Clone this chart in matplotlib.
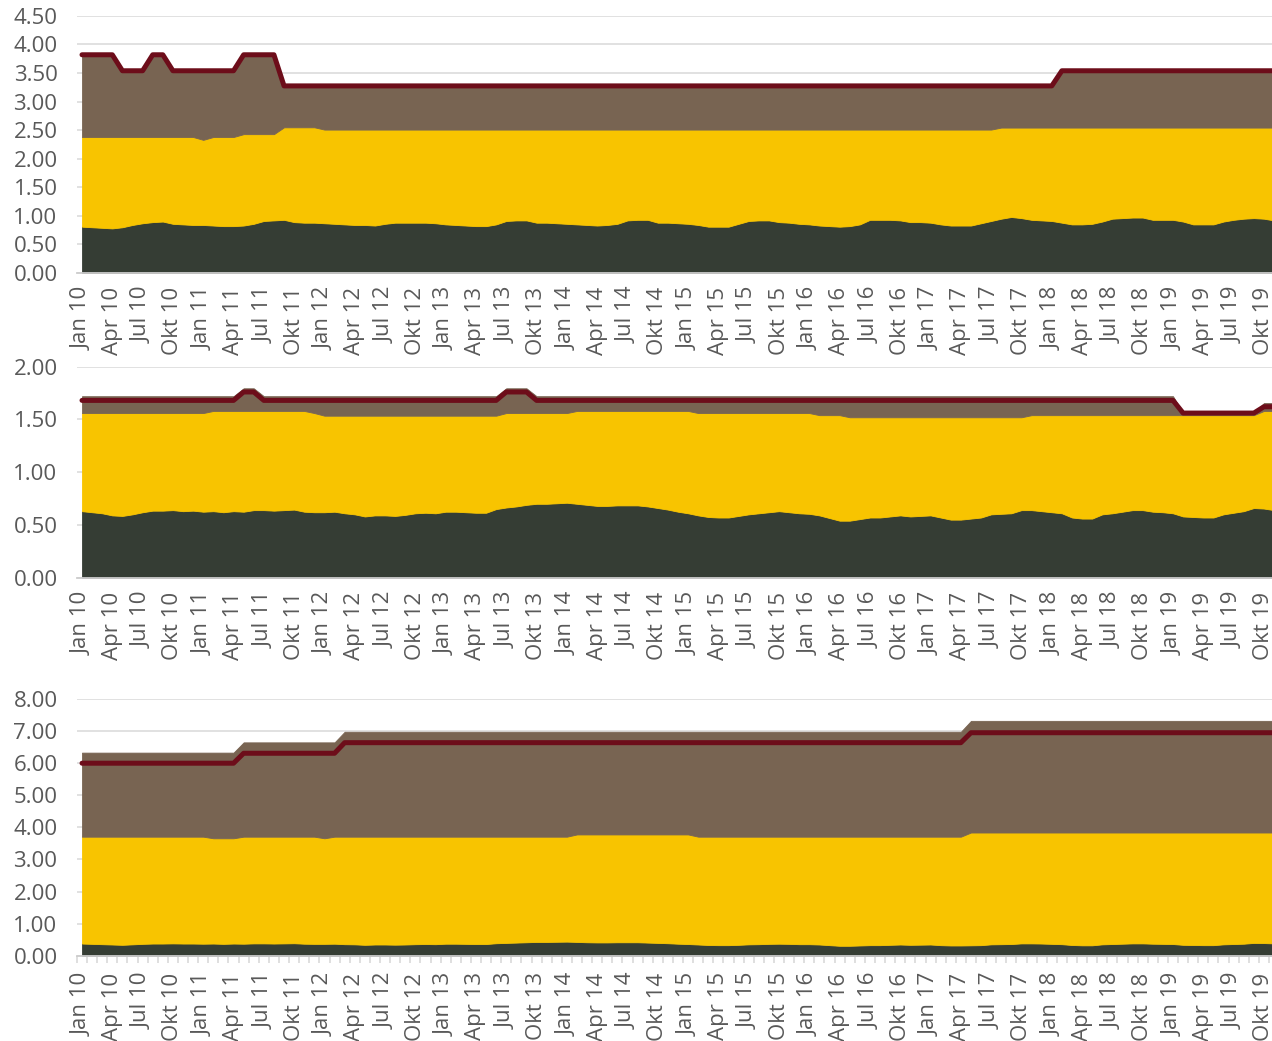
import matplotlib
matplotlib.use("Agg")
import matplotlib.pyplot as plt
import numpy as np

plt.rcParams['font.family'] = ['Open Sans', 'DejaVu Sans']

# months Jan 10 .. Dez 19
month_names = ['Jan', 'Apr', 'Jul', 'Okt']
years = list(range(10, 20))
tick_labels = [m + ' ' + str(y) for y in years for m in month_names]

# ---------- panel 1 ----------
p1_dark = [
    0.81, 0.80, 0.79, 0.78, 0.80, 0.84, 0.87, 0.89, 0.90, 0.86, 0.85, 0.84,
    0.84, 0.83, 0.82, 0.82, 0.83, 0.86, 0.91, 0.92, 0.93, 0.89, 0.88, 0.88,
    0.87, 0.86, 0.85, 0.84, 0.84, 0.83, 0.86, 0.88, 0.88, 0.88, 0.88, 0.87,
    0.85, 0.84, 0.83, 0.82, 0.82, 0.85, 0.91, 0.92, 0.92, 0.88, 0.88, 0.87,
    0.86, 0.85, 0.84, 0.83, 0.84, 0.86, 0.92, 0.93, 0.93, 0.88, 0.88, 0.87,
    0.86, 0.84, 0.81, 0.81, 0.81, 0.86, 0.91, 0.92, 0.92, 0.89, 0.88, 0.86,
    0.85, 0.83, 0.82, 0.81, 0.82, 0.85, 0.93, 0.93, 0.93, 0.92, 0.89, 0.89,
    0.88, 0.85, 0.83, 0.83, 0.83, 0.87, 0.91, 0.95, 0.98, 0.96, 0.93, 0.92,
    0.91, 0.88, 0.85, 0.85, 0.86, 0.90, 0.95, 0.96, 0.97, 0.97, 0.93, 0.93,
    0.93, 0.90, 0.85, 0.85, 0.85, 0.90, 0.93, 0.95, 0.96, 0.95, 0.92, 0.90,
]
p1_mid = [
    2.38, 2.38, 2.38, 2.38, 2.38, 2.38, 2.38, 2.38, 2.38, 2.38, 2.38, 2.38,
    2.33, 2.38, 2.38, 2.38, 2.43, 2.43, 2.43, 2.43, 2.55, 2.55, 2.55, 2.55,
    2.51, 2.51, 2.51, 2.51, 2.51, 2.51, 2.51, 2.51, 2.51, 2.51, 2.51, 2.51,
    2.51, 2.51, 2.51, 2.51, 2.51, 2.51, 2.51, 2.51, 2.51, 2.51, 2.51, 2.51,
    2.51, 2.51, 2.51, 2.51, 2.51, 2.51, 2.51, 2.51, 2.51, 2.51, 2.51, 2.51,
    2.51, 2.51, 2.51, 2.51, 2.51, 2.51, 2.51, 2.51, 2.51, 2.51, 2.51, 2.51,
    2.51, 2.51, 2.51, 2.51, 2.51, 2.51, 2.51, 2.51, 2.51, 2.51, 2.51, 2.51,
    2.51, 2.51, 2.51, 2.51, 2.51, 2.51, 2.51, 2.545, 2.545, 2.545, 2.545, 2.545,
    2.545, 2.545, 2.545, 2.545, 2.545, 2.545, 2.545, 2.545, 2.545, 2.545, 2.545, 2.545,
    2.545, 2.545, 2.545, 2.545, 2.545, 2.545, 2.545, 2.545, 2.545, 2.545, 2.545, 2.545,
]
p1_total = [
    3.82, 3.82, 3.82, 3.82, 3.54, 3.54, 3.54, 3.82, 3.82, 3.54, 3.54, 3.54,
    3.54, 3.54, 3.54, 3.54, 3.82, 3.82, 3.82, 3.82, 3.275, 3.275, 3.275, 3.275,
    3.275, 3.275, 3.275, 3.275, 3.275, 3.275, 3.275, 3.275, 3.275, 3.275, 3.275, 3.275,
    3.275, 3.275, 3.275, 3.275, 3.275, 3.275, 3.275, 3.275, 3.275, 3.275, 3.275, 3.275,
    3.275, 3.275, 3.275, 3.275, 3.275, 3.275, 3.275, 3.275, 3.275, 3.275, 3.275, 3.275,
    3.275, 3.275, 3.275, 3.275, 3.275, 3.275, 3.275, 3.275, 3.275, 3.275, 3.275, 3.275,
    3.275, 3.275, 3.275, 3.275, 3.275, 3.275, 3.275, 3.275, 3.275, 3.275, 3.275, 3.275,
    3.275, 3.275, 3.275, 3.275, 3.275, 3.275, 3.275, 3.275, 3.275, 3.275, 3.275, 3.275,
    3.275, 3.54, 3.54, 3.54, 3.54, 3.54, 3.54, 3.54, 3.54, 3.54, 3.54, 3.54,
    3.54, 3.54, 3.54, 3.54, 3.54, 3.54, 3.54, 3.54, 3.54, 3.54, 3.54, 3.54,
]
p1_top = p1_total  # brown layer ends at the total

# ---------- panel 2 ----------
p2_dark = [
    0.63, 0.62, 0.61, 0.59, 0.585, 0.60, 0.62, 0.635, 0.635, 0.64, 0.63, 0.635,
    0.625, 0.63, 0.62, 0.63, 0.625, 0.64, 0.64, 0.635, 0.64, 0.645, 0.625, 0.62,
    0.62, 0.625, 0.61, 0.60, 0.58, 0.59, 0.59, 0.585, 0.595, 0.61, 0.615, 0.61,
    0.625, 0.625, 0.62, 0.615, 0.615, 0.65, 0.665, 0.675, 0.69, 0.70, 0.70, 0.705,
    0.71, 0.70, 0.69, 0.68, 0.68, 0.685, 0.685, 0.685, 0.675, 0.66, 0.645, 0.625,
    0.61, 0.59, 0.575, 0.57, 0.57, 0.585, 0.60, 0.61, 0.62, 0.63, 0.62, 0.61,
    0.605, 0.59, 0.565, 0.54, 0.54, 0.555, 0.57, 0.57, 0.58, 0.59, 0.58, 0.585,
    0.59, 0.57, 0.55, 0.55, 0.56, 0.57, 0.60, 0.605, 0.61, 0.64, 0.64, 0.63,
    0.62, 0.61, 0.57, 0.56, 0.56, 0.60, 0.61, 0.625, 0.64, 0.64, 0.625, 0.62,
    0.61, 0.58, 0.575, 0.57, 0.57, 0.60, 0.615, 0.63, 0.66, 0.655, 0.64, 0.63,
]
p2_mid = [
    1.56, 1.56, 1.56, 1.56, 1.56, 1.56, 1.56, 1.56, 1.56, 1.56, 1.56, 1.56,
    1.56, 1.58, 1.58, 1.58, 1.58, 1.58, 1.58, 1.58, 1.58, 1.58, 1.58, 1.56,
    1.535, 1.535, 1.535, 1.535, 1.535, 1.535, 1.535, 1.535, 1.535, 1.535, 1.535, 1.535,
    1.535, 1.535, 1.535, 1.535, 1.535, 1.535, 1.56, 1.56, 1.56, 1.56, 1.56, 1.56,
    1.56, 1.58, 1.58, 1.58, 1.58, 1.58, 1.58, 1.58, 1.58, 1.58, 1.58, 1.58,
    1.58, 1.56, 1.56, 1.56, 1.56, 1.56, 1.56, 1.56, 1.56, 1.56, 1.56, 1.56,
    1.56, 1.54, 1.54, 1.54, 1.52, 1.52, 1.52, 1.52, 1.52, 1.52, 1.52, 1.52,
    1.52, 1.52, 1.52, 1.52, 1.52, 1.52, 1.52, 1.52, 1.52, 1.52, 1.54, 1.54,
    1.54, 1.54, 1.54, 1.54, 1.54, 1.54, 1.54, 1.54, 1.54, 1.54, 1.54, 1.54,
    1.54, 1.54, 1.54, 1.54, 1.54, 1.54, 1.54, 1.54, 1.54, 1.58, 1.58, 1.58,
]
p2_top = [
    1.72, 1.72, 1.72, 1.72, 1.72, 1.72, 1.72, 1.72, 1.72, 1.72, 1.72, 1.72,
    1.72, 1.72, 1.72, 1.72, 1.795, 1.795, 1.72, 1.72, 1.72, 1.72, 1.72, 1.72,
    1.72, 1.72, 1.72, 1.72, 1.72, 1.72, 1.72, 1.72, 1.72, 1.72, 1.72, 1.72,
    1.72, 1.72, 1.72, 1.72, 1.72, 1.72, 1.795, 1.795, 1.795, 1.72, 1.72, 1.72,
    1.72, 1.72, 1.72, 1.72, 1.72, 1.72, 1.72, 1.72, 1.72, 1.72, 1.72, 1.72,
    1.72, 1.72, 1.72, 1.72, 1.72, 1.72, 1.72, 1.72, 1.72, 1.72, 1.72, 1.72,
    1.72, 1.72, 1.72, 1.72, 1.72, 1.72, 1.72, 1.72, 1.72, 1.72, 1.72, 1.72,
    1.72, 1.72, 1.72, 1.72, 1.72, 1.72, 1.72, 1.72, 1.72, 1.72, 1.72, 1.72,
    1.72, 1.72, 1.72, 1.72, 1.72, 1.72, 1.72, 1.72, 1.72, 1.72, 1.72, 1.72,
    1.72, 1.56, 1.56, 1.56, 1.56, 1.56, 1.56, 1.56, 1.56, 1.655, 1.655, 1.655,
]
p2_total = [
    1.68, 1.68, 1.68, 1.68, 1.68, 1.68, 1.68, 1.68, 1.68, 1.68, 1.68, 1.68,
    1.68, 1.68, 1.68, 1.68, 1.76, 1.76, 1.68, 1.68, 1.68, 1.68, 1.68, 1.68,
    1.68, 1.68, 1.68, 1.68, 1.68, 1.68, 1.68, 1.68, 1.68, 1.68, 1.68, 1.68,
    1.68, 1.68, 1.68, 1.68, 1.68, 1.68, 1.76, 1.76, 1.76, 1.68, 1.68, 1.68,
    1.68, 1.68, 1.68, 1.68, 1.68, 1.68, 1.68, 1.68, 1.68, 1.68, 1.68, 1.68,
    1.68, 1.68, 1.68, 1.68, 1.68, 1.68, 1.68, 1.68, 1.68, 1.68, 1.68, 1.68,
    1.68, 1.68, 1.68, 1.68, 1.68, 1.68, 1.68, 1.68, 1.68, 1.68, 1.68, 1.68,
    1.68, 1.68, 1.68, 1.68, 1.68, 1.68, 1.68, 1.68, 1.68, 1.68, 1.68, 1.68,
    1.68, 1.68, 1.68, 1.68, 1.68, 1.68, 1.68, 1.68, 1.68, 1.68, 1.68, 1.68,
    1.68, 1.56, 1.56, 1.56, 1.56, 1.56, 1.56, 1.56, 1.56, 1.62, 1.62, 1.62,
]

# ---------- panel 3 ----------
p3_dark = [
    0.38, 0.37, 0.36, 0.35, 0.34, 0.355, 0.37, 0.38, 0.38, 0.385, 0.38, 0.38,
    0.375, 0.38, 0.37, 0.38, 0.375, 0.385, 0.385, 0.38, 0.385, 0.39, 0.375, 0.37,
    0.37, 0.375, 0.36, 0.355, 0.34, 0.35, 0.35, 0.345, 0.35, 0.36, 0.365, 0.36,
    0.375, 0.375, 0.37, 0.365, 0.365, 0.39, 0.40, 0.41, 0.42, 0.43, 0.43, 0.435,
    0.44, 0.43, 0.42, 0.415, 0.415, 0.42, 0.42, 0.42, 0.41, 0.40, 0.39, 0.375,
    0.365, 0.35, 0.335, 0.33, 0.33, 0.34, 0.355, 0.36, 0.37, 0.375, 0.37, 0.36,
    0.36, 0.35, 0.33, 0.31, 0.31, 0.32, 0.33, 0.33, 0.34, 0.35, 0.34, 0.345,
    0.35, 0.33, 0.32, 0.32, 0.325, 0.33, 0.355, 0.36, 0.365, 0.385, 0.385, 0.38,
    0.37, 0.36, 0.335, 0.325, 0.325, 0.355, 0.365, 0.375, 0.385, 0.385, 0.375, 0.37,
    0.365, 0.34, 0.335, 0.33, 0.33, 0.355, 0.365, 0.375, 0.40, 0.395, 0.385, 0.375,
]
p3_mid = [
    3.71, 3.71, 3.71, 3.71, 3.71, 3.71, 3.71, 3.71, 3.71, 3.71, 3.71, 3.71,
    3.71, 3.66, 3.66, 3.66, 3.71, 3.71, 3.71, 3.71, 3.71, 3.71, 3.71, 3.71,
    3.66, 3.71, 3.71, 3.71, 3.71, 3.71, 3.71, 3.71, 3.71, 3.71, 3.71, 3.71,
    3.71, 3.71, 3.71, 3.71, 3.71, 3.71, 3.71, 3.71, 3.71, 3.71, 3.71, 3.71,
    3.71, 3.78, 3.78, 3.78, 3.78, 3.78, 3.78, 3.78, 3.78, 3.78, 3.78, 3.78,
    3.78, 3.71, 3.71, 3.71, 3.71, 3.71, 3.71, 3.71, 3.71, 3.71, 3.71, 3.71,
    3.71, 3.71, 3.71, 3.71, 3.71, 3.71, 3.71, 3.71, 3.71, 3.71, 3.71, 3.71,
    3.71, 3.71, 3.71, 3.71, 3.84, 3.84, 3.84, 3.84, 3.84, 3.84, 3.84, 3.84,
    3.84, 3.84, 3.84, 3.84, 3.84, 3.84, 3.84, 3.84, 3.84, 3.84, 3.84, 3.84,
    3.84, 3.84, 3.84, 3.84, 3.84, 3.84, 3.84, 3.84, 3.84, 3.84, 3.84, 3.84,
]
p3_top = [
    6.33, 6.33, 6.33, 6.33, 6.33, 6.33, 6.33, 6.33, 6.33, 6.33, 6.33, 6.33,
    6.33, 6.33, 6.33, 6.33, 6.65, 6.65, 6.65, 6.65, 6.65, 6.65, 6.65, 6.65,
    6.65, 6.65, 6.98, 6.98, 6.98, 6.98, 6.98, 6.98, 6.98, 6.98, 6.98, 6.98,
    6.98, 6.98, 6.98, 6.98, 6.98, 6.98, 6.98, 6.98, 6.98, 6.98, 6.98, 6.98,
    6.98, 6.98, 6.98, 6.98, 6.98, 6.98, 6.98, 6.98, 6.98, 6.98, 6.98, 6.98,
    6.98, 6.98, 6.98, 6.98, 6.98, 6.98, 6.98, 6.98, 6.98, 6.98, 6.98, 6.98,
    6.98, 6.98, 6.98, 6.98, 6.98, 6.98, 6.98, 6.98, 6.98, 6.98, 6.98, 6.98,
    6.98, 6.98, 6.98, 6.98, 7.32, 7.32, 7.32, 7.32, 7.32, 7.32, 7.32, 7.32,
    7.32, 7.32, 7.32, 7.32, 7.32, 7.32, 7.32, 7.32, 7.32, 7.32, 7.32, 7.32,
    7.32, 7.32, 7.32, 7.32, 7.32, 7.32, 7.32, 7.32, 7.32, 7.32, 7.32, 7.32,
]
p3_total = [
    6.00, 6.00, 6.00, 6.00, 6.00, 6.00, 6.00, 6.00, 6.00, 6.00, 6.00, 6.00,
    6.00, 6.00, 6.00, 6.00, 6.31, 6.31, 6.31, 6.31, 6.31, 6.31, 6.31, 6.31,
    6.31, 6.31, 6.64, 6.64, 6.64, 6.64, 6.64, 6.64, 6.64, 6.64, 6.64, 6.64,
    6.64, 6.64, 6.64, 6.64, 6.64, 6.64, 6.64, 6.64, 6.64, 6.64, 6.64, 6.64,
    6.64, 6.64, 6.64, 6.64, 6.64, 6.64, 6.64, 6.64, 6.64, 6.64, 6.64, 6.64,
    6.64, 6.64, 6.64, 6.64, 6.64, 6.64, 6.64, 6.64, 6.64, 6.64, 6.64, 6.64,
    6.64, 6.64, 6.64, 6.64, 6.64, 6.64, 6.64, 6.64, 6.64, 6.64, 6.64, 6.64,
    6.64, 6.64, 6.64, 6.64, 6.95, 6.95, 6.95, 6.95, 6.95, 6.95, 6.95, 6.95,
    6.95, 6.95, 6.95, 6.95, 6.95, 6.95, 6.95, 6.95, 6.95, 6.95, 6.95, 6.95,
    6.95, 6.95, 6.95, 6.95, 6.95, 6.95, 6.95, 6.95, 6.95, 6.95, 6.95, 6.95,
]

c_dark = '#353d34'
c_yellow = '#f8c400'
c_brown = '#786452'
c_red = '#6d0d1a'
c_text = '#595959'
c_grid = '#d9d9d9'


def draw_panel(ax, dark, mid, top, total, ymax, ystep, monthly_ticks=False):
    x = np.arange(len(dark))
    ax.fill_between(x, 0, dark, color=c_dark, lw=0.6, ec=c_dark)
    ax.fill_between(x, dark, mid, color=c_yellow, lw=0.6, ec=c_yellow)
    ax.fill_between(x, mid, top, color=c_brown, lw=0.6, ec=c_brown)
    ax.plot(x, total, color=c_red, lw=3.6, solid_capstyle='round')

    yt = np.arange(0, ymax + ystep / 2, ystep)
    ax.set_yticks(yt)
    ax.set_yticklabels(['%.2f' % v for v in yt])
    ax.set_xticks(np.arange(0, 120, 3))
    ax.set_xticklabels(tick_labels, rotation=90)
    ax.tick_params(axis='x', length=0, pad=10, labelsize=16, labelcolor=c_text)
    ax.tick_params(axis='y', length=0, pad=14, labelsize=16, labelcolor=c_text)
    if monthly_ticks:
        ax.set_xticks(np.arange(-0.5, 120, 1), minor=True)
        ax.tick_params(axis='x', which='minor', length=5, width=1.2, color=c_grid)
        ax.tick_params(axis='x', which='major', pad=12)
    # limits after the ticks, so the minor ticks do not widen the view
    ax.set_xlim(-0.5, 117.8)
    ax.set_ylim(0, ymax)

    ax.yaxis.grid(True, color=c_grid, lw=1.1)
    ax.set_axisbelow(True)
    for s in ['top', 'right', 'left']:
        ax.spines[s].set_visible(False)
    ax.spines['bottom'].set_color('#cccccc')
    ax.spines['bottom'].set_linewidth(1.3)


fig = plt.figure(figsize=(12.72, 10.41), dpi=100)
ax1 = fig.add_axes([0.0605, 0.7378, 0.9395, 0.2469])
ax2 = fig.add_axes([0.0605, 0.4451, 0.9395, 0.2027])
ax3 = fig.add_axes([0.0605, 0.0819, 0.9395, 0.2466])

draw_panel(ax1, p1_dark, p1_mid, p1_top, p1_total, 4.5, 0.5)
draw_panel(ax2, p2_dark, p2_mid, p2_top, p2_total, 2.0, 0.5)
draw_panel(ax3, p3_dark, p3_mid, p3_top, p3_total, 8.0, 1.0, monthly_ticks=True)

fig.savefig('out.png', dpi=100)
